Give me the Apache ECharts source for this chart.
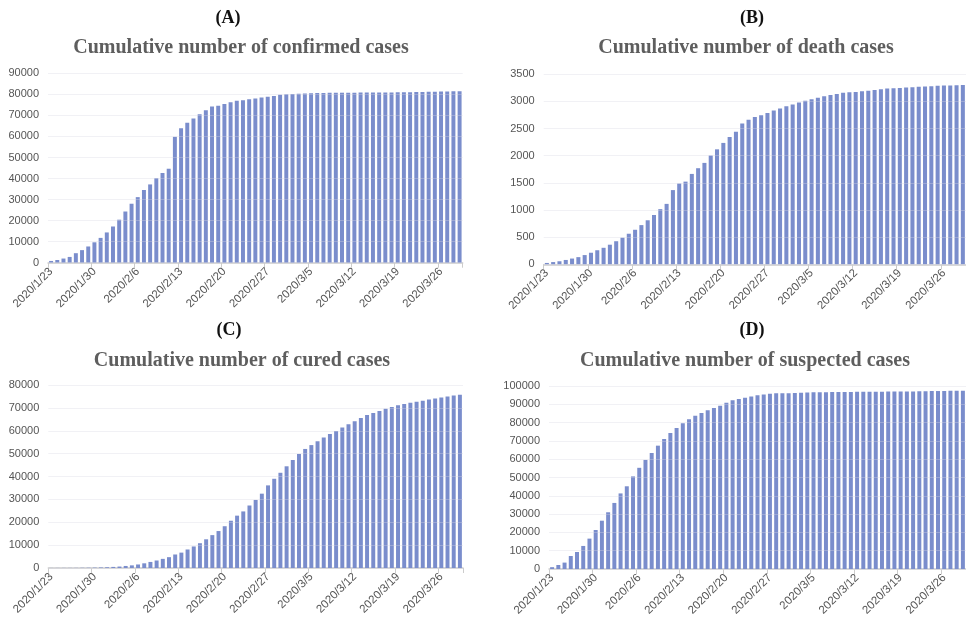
<!DOCTYPE html>
<html>
<head>
<meta charset="utf-8">
<script src="https://cdn.jsdelivr.net/npm/echarts@6/dist/echarts.min.js"></script>
<style>
html,body{margin:0;padding:0;background:#fff;}
#main{width:966px;height:624px;}
</style>
</head>
<body>
<div id="main"></div>
<script>
var dates = [
'2020/1/23','2020/1/24','2020/1/25','2020/1/26','2020/1/27','2020/1/28','2020/1/29','2020/1/30','2020/1/31',
'2020/2/1','2020/2/2','2020/2/3','2020/2/4','2020/2/5','2020/2/6','2020/2/7','2020/2/8','2020/2/9','2020/2/10',
'2020/2/11','2020/2/12','2020/2/13','2020/2/14','2020/2/15','2020/2/16','2020/2/17','2020/2/18','2020/2/19','2020/2/20',
'2020/2/21','2020/2/22','2020/2/23','2020/2/24','2020/2/25','2020/2/26','2020/2/27','2020/2/28','2020/2/29',
'2020/3/1','2020/3/2','2020/3/3','2020/3/4','2020/3/5','2020/3/6','2020/3/7','2020/3/8','2020/3/9','2020/3/10',
'2020/3/11','2020/3/12','2020/3/13','2020/3/14','2020/3/15','2020/3/16','2020/3/17','2020/3/18','2020/3/19','2020/3/20',
'2020/3/21','2020/3/22','2020/3/23','2020/3/24','2020/3/25','2020/3/26','2020/3/27','2020/3/28','2020/3/29'
];

var confirmed = [
830,1287,1975,2744,4515,5974,7711,9692,11791,
14380,17205,20438,24324,28018,31161,34546,37198,40171,42638,
44653,59804,63851,66492,68500,70548,72436,74185,74576,75465,
76288,76936,77150,77658,78064,78497,78824,79251,79824,
80026,80151,80270,80409,80552,80651,80695,80735,80754,80778,
80793,80813,80824,80844,80860,80881,80894,80928,80967,81008,
81054,81093,81171,81218,81285,81340,81394,81439,81470
];

var deaths = [
25,41,56,80,106,132,170,213,259,
304,361,425,490,563,636,722,811,908,1016,
1113,1367,1488,1523,1665,1770,1868,2004,2118,2236,
2345,2442,2592,2663,2715,2744,2788,2835,2870,
2912,2943,2981,3012,3042,3070,3097,3119,3136,3158,
3169,3176,3189,3199,3213,3226,3237,3245,3248,3255,
3261,3270,3277,3281,3287,3292,3295,3300,3304
];

var cured = [
34,38,49,51,60,103,124,171,243,
328,475,632,892,1153,1540,2050,2649,3281,3996,
4740,5911,6723,8096,9419,10844,12552,14376,16155,18264,
20659,22888,24734,27323,29745,32495,36117,39002,41625,
44462,47204,49856,52045,53726,55404,57065,58600,59897,61475,
62793,64111,65541,66911,67749,68679,69601,70420,71150,71740,
72244,72703,73159,73650,74051,74588,74971,75448,75790
];

var suspected = [
1000,2200,3500,7100,9300,12600,16600,21300,26400,
31000,36100,41300,45200,50600,55300,59600,63400,67400,71000,
74300,77000,79600,81800,83700,85200,86700,88000,89200,90800,
92200,92900,93600,94300,94900,95300,95800,96000,96050,
96100,96200,96350,96450,96550,96600,96650,96700,96720,96750,
96780,96800,96830,96850,96880,96900,96930,96950,96980,97000,
97050,97100,97150,97200,97250,97300,97350,97400,97450
];

var panelLetters = ['(A)','(B)','(C)','(D)'];
var panelTitles = [
'Cumulative number of confirmed cases',
'Cumulative number of death cases',
'Cumulative number of cured cases',
'Cumulative number of suspected cases'
];
var yMax = [90000, 3500, 80000, 100000];
var yInterval = [10000, 500, 10000, 10000];
var seriesData = [confirmed, deaths, cured, suspected];

var grids = [
  {left: 48, top: 73.3, width: 414.7, height: 189.4},
  {left: 543.7, top: 74.3, width: 431.5, height: 190},
  {left: 48.3, top: 385, width: 414.7, height: 183},
  {left: 549, top: 386, width: 426, height: 183}
];
var letterPos = [[228, 18], [752, 18], [229, 330], [752, 330]];
var titlePos = [[241, 48], [746, 48], [242, 361], [745, 361]];

var BAR = '#7a8dcc';
var option = {
  animation: false,
  backgroundColor: '#fff',
  grid: grids,
  xAxis: [], yAxis: [], series: [],
  graphic: []
};
for (var i = 0; i < 4; i++) {
  option.xAxis.push({
    type: 'category', gridIndex: i, data: dates,
    axisLine: {lineStyle: {color: '#cccccc', width: 1.5}},
    axisTick: {show: true, interval: 6, length: 5, lineStyle: {color: '#cccccc'}},
    axisLabel: {interval: 6, rotate: 45, fontSize: 11.5, color: '#555', fontFamily: 'Liberation Sans, Arial, sans-serif', margin: 7}
  });
  option.yAxis.push({
    type: 'value', gridIndex: i, min: 0, max: yMax[i], interval: yInterval[i], z: 5,
    axisLine: {show: false}, axisTick: {show: false},
    splitLine: {lineStyle: {color: 'rgba(215,215,225,0.35)', width: 1}},
    axisLabel: {fontSize: 11, color: '#555', fontFamily: 'Liberation Sans, Arial, sans-serif', margin: 9,
      formatter: function (v) { return String(v); }}
  });
  option.series.push({
    type: 'bar', xAxisIndex: i, yAxisIndex: i, data: seriesData[i],
    barCategoryGap: '36%',
    itemStyle: {color: BAR}
  });
  option.graphic.push({
    type: 'text', x: letterPos[i][0], y: letterPos[i][1],
    style: {text: panelLetters[i], fill: '#111', font: 'bold 18px "Liberation Serif", "Times New Roman", serif',
      align: 'center', verticalAlign: 'middle', textAlign: 'center', textVerticalAlign: 'middle'}
  });
  option.graphic.push({
    type: 'text', x: titlePos[i][0], y: titlePos[i][1],
    style: {text: panelTitles[i], fill: '#5e5e5e', font: 'bold 20px "Liberation Serif", "Times New Roman", serif',
      align: 'center', verticalAlign: 'middle', textAlign: 'center', textVerticalAlign: 'middle'}
  });
}
var chart = echarts.init(document.getElementById('main'), null, {renderer: 'canvas'});
chart.setOption(option);
</script>
</body>
</html>
